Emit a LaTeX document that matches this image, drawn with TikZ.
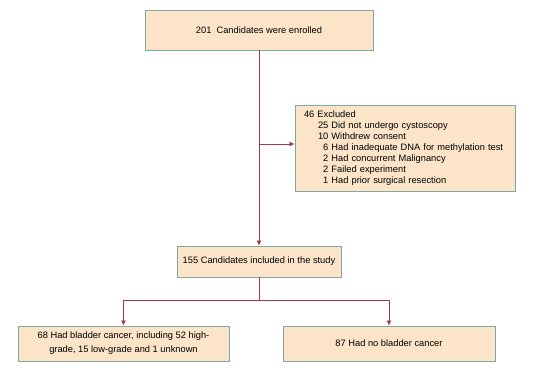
\documentclass[tikz,border=0pt]{standalone}
\usepackage{fontspec}
\setmainfont{Liberation Sans}
\usetikzlibrary{arrows.meta}

\definecolor{boxfill}{HTML}{FBE4C8}
\definecolor{boxline}{HTML}{7FA9A0}
\definecolor{linkred}{HTML}{A5384A}

\begin{document}
\begin{tikzpicture}[x=1pt, y=-1pt, >={Latex[length=5pt,width=5pt]},
    box/.style={draw=boxline, fill=boxfill, line width=0.9pt, inner sep=0pt,
        font=\fontsize{9.3}{11}\selectfont},
    link/.style={->, linkred, line width=0.8pt}]
    \useasboundingbox (0,0) rectangle (553,372);
    \node[box, minimum width=228pt, minimum height=40pt] (enrolled) at (259,30)
        {201\ \ Candidates were enrolled};
    \node[box, minimum width=220pt, minimum height=86pt, text width=202pt,
        inner xsep=9pt, align=left] (excluded) at (405,148)
        {46 Excluded\\
         \hspace*{14pt}25 Did not undergo cystoscopy\\
         \hspace*{14pt}10 Withdrew consent\\
         \hspace*{14pt}\phantom{0}6 Had inadequate DNA for methylation test\\
         \hspace*{14pt}\phantom{0}2 Had concurrent Malignancy\\
         \hspace*{14pt}\phantom{0}2 Failed experiment\\
         \hspace*{14pt}\phantom{0}1 Had prior surgical resection};
    \node[box, minimum width=164pt, minimum height=31pt] (included) at (259,261.5)
        {155 Candidates included in the study};
    \node[box, minimum width=211pt, minimum height=35pt, align=center,
        font=\fontsize{9.3}{14}\selectfont] (cancer) at (123.5,343.5)
        {68 Had bladder cancer, including 52 high-\\grade, 15 low-grade and 1 unknown};
    \node[box, minimum width=212pt, minimum height=35pt] (nocancer) at (389,343.5)
        {87 Had no bladder cancer};

    \coordinate (tap) at (259,144);
    \coordinate (fork) at (259,300);
    \draw[link] (enrolled) -- (included);
    \draw[link] (tap) -- (tap -| excluded.west);
    \draw[link] (included.south) -- (fork) -| (cancer);
    \draw[link] (fork) -| (nocancer);
\end{tikzpicture}
\end{document}
